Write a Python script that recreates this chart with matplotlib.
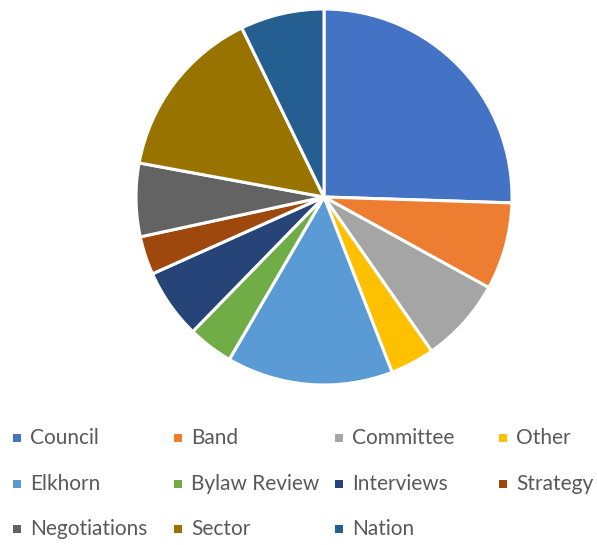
import matplotlib
matplotlib.use("Agg")
import matplotlib.pyplot as plt
from matplotlib.patches import Rectangle

categories = ["Council", "Band", "Committee", "Other", "Elkhorn", "Bylaw Review",
              "Interviews", "Strategy", "Negotiations", "Sector", "Nation"]
values = [25.5, 7.5, 7.3, 3.8, 14.3, 3.9, 6.0, 3.3, 6.3, 14.9, 7.2]
colors = ["#4472C4", "#ED7D31", "#A5A5A5", "#FFC000", "#5B9BD5", "#70AD47",
          "#264478", "#9E480E", "#636363", "#997300", "#255E91"]

W, H = 597, 545
fig = plt.figure(figsize=(W / 100, H / 100), dpi=100)
ax = fig.add_axes([0, 0, 1, 1])

ax.pie(values, colors=colors, startangle=90, counterclock=False,
       center=(324, H - 197), radius=188, frame=True,
       wedgeprops=dict(edgecolor="white", linewidth=2.2))
ax.set_xlim(0, W)
ax.set_ylim(0, H)
ax.set_aspect("equal")
ax.axis("off")

# Legend (row-major, 4 columns, equal widths like Excel)
col_x = [17, 178, 339, 503]
row_y = [438, 484, 529]
for i, (name, c) in enumerate(zip(categories, colors)):
    r, k = divmod(i, 4)
    x = col_x[k]
    y = H - row_y[r]
    ax.add_patch(Rectangle((x - 4, y - 4), 8, 8, facecolor=c, edgecolor="none"))
    ax.text(x + 13, y, name, fontsize=15, family="Lato", color="#595959",
            va="center", ha="left")

fig.savefig("out.png", dpi=100)
